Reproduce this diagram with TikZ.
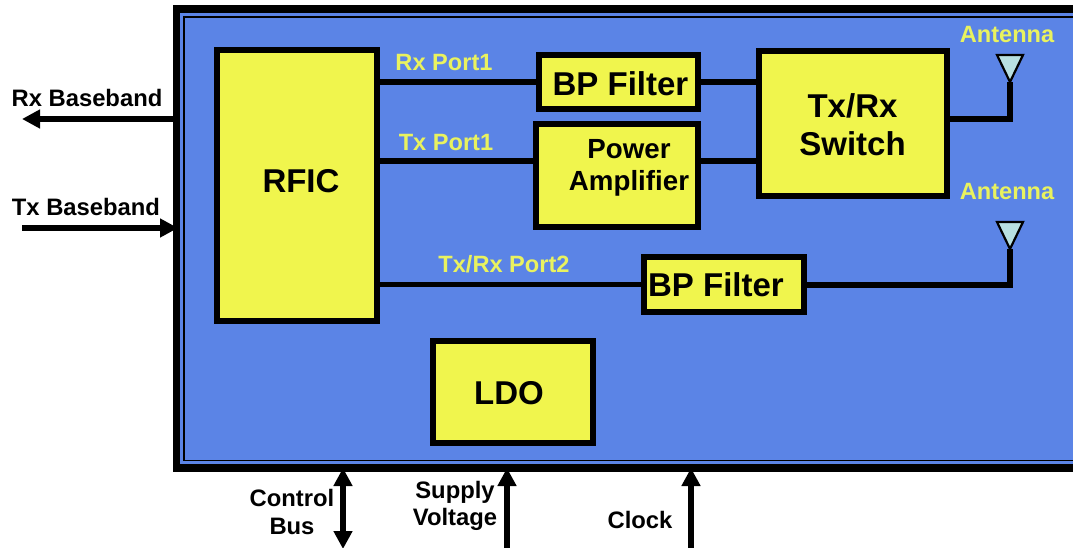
\documentclass[tikz,border=0pt]{standalone}
\usepackage{fontspec}
\setmainfont{Liberation Sans}
\usetikzlibrary{arrows.meta}
\definecolor{panel}{HTML}{5B84E6}
\definecolor{boxy}{HTML}{F0F54D}
\definecolor{labely}{HTML}{E9F25F}
\definecolor{ant}{HTML}{B8E0E2}
\newcommand{\offtext}[3]{\raisebox{#2}[0pt][0pt]{\hspace*{#1}\begin{tabular}{@{}c@{}}#3\end{tabular}}}
\tikzset{
 blockbox/.style={draw=black,line width=6pt,fill=boxy,anchor=center,inner sep=0pt,font=\fontsize{33}{40}\bfseries\selectfont},
 smallblock/.style={blockbox,font=\fontsize{27.7}{32}\bfseries\selectfont},
 wire/.style={line width=5.5pt,draw=black},
 sig/.style={line width=6pt,draw=black},
 lab/.style={text=labely,font=\fontsize{23.6}{26}\bfseries\selectfont,inner sep=0pt},
 ext/.style={text=black,font=\fontsize{23.8}{28.5}\bfseries\selectfont,inner sep=0pt,align=center},
 tip/.style={-{Triangle[length=18pt,width=18pt]}},
 tipboth/.style={{Triangle[length=18pt,width=18pt]}-{Triangle[length=18pt,width=18pt]}},
 antenna/.style={draw=black,line width=2.2pt,fill=ant,line join=miter},
 apex/.style={inner sep=0pt,minimum size=0pt},
}
\begin{document}
\begin{tikzpicture}[x=1pt,y=-1pt]
\useasboundingbox (0,0) rectangle (1073,548);
% panel
\fill[black] (173,5) rectangle (1073,472);
\fill[panel] (180,13) rectangle (1073,464);
\draw[black,line width=1.8pt] (1074,17) -- (184,17) -- (184,460.5) -- (1074,460.5);
% free ends
\coordinate (rxout) at (22,119);
\coordinate (rxin) at (176,119);
\coordinate (txin) at (22,228);
\coordinate (txout) at (178,228);
\coordinate (cbT) at (343,468);
\coordinate (cbB) at (343,549);
\coordinate (svT) at (507,468);
\coordinate (svB) at (507,549);
\coordinate (ckT) at (691,468);
\coordinate (ckB) at (691,549);
\coordinate (a1) at (1010,119);
\coordinate (a2) at (1010,285);
\coordinate (y1) at (0,82);
\coordinate (y2) at (0,161);
% blocks
\node[blockbox,minimum width=160pt,minimum height=271pt] (rfic) at (297,185.5) {\offtext{8pt}{-5.6pt}{RFIC}};
\node[blockbox,minimum width=159pt,minimum height=54pt] (bp1) at (618.5,82) {\offtext{4pt}{-12.1pt}{BP Filter}};
\node[blockbox,minimum width=188pt,minimum height=145pt] (sw) at (853,123.5) {\offtext{-1pt}{-10.8pt}{Tx/Rx\\[-2pt]Switch}};
\node[smallblock,minimum width=162pt,minimum height=103pt] (pa) at (617,175.5) {\offtext{24pt}{1.5pt}{Power\\Amplifier}};
\node[blockbox,minimum width=160pt,minimum height=55pt] (bp2) at (724,284.5) {\offtext{-16pt}{-10.6pt}{BP Filter}};
\node[blockbox,minimum width=160pt,minimum height=102pt] (ldo) at (513,392) {\offtext{-8pt}{-11.1pt}{LDO}};
% antenna apexes
\node[apex] (ant1) at (1010,82) {};
\node[apex] (ant2) at (1010,249) {};
% wires
\draw[wire] (rfic.east |- y1) -- (bp1.west |- y1);
\draw[wire] (bp1.east |- y1) -- (sw.west |- y1);
\draw[wire] (rfic.east |- y2) -- (pa.west |- y2);
\draw[wire] (pa.east |- y2) -- (sw.west |- y2);
\draw[wire] (rfic.east |- bp2.west) -- (bp2.west);
\draw[wire,line join=miter] (sw.east |- a1) -- (a1) -- (ant1);
\draw[wire,line join=miter] (bp2.east |- a2) -- (a2) -- (ant2);
\draw[antenna] (997,55) -- (1023,55) -- (ant1.center) -- cycle;
\draw[antenna] (997,222) -- (1023,222) -- (ant2.center) -- cycle;
% external arrows
\draw[sig,tip] (rxin) -- (rxout);
\draw[sig,tip] (txin) -- (txout);
\draw[sig,tipboth] (cbT) -- (cbB);
\draw[sig,tip] (svB) -- (svT);
\draw[sig,tip] (ckB) -- (ckT);
% labels
\node[lab] (l1) at (444,62) {Rx Port1};
\node[lab] (l2) at (446,142) {Tx Port1};
\node[lab] (l3) at (504,264) {Tx/Rx Port2};
\node[lab] (l4) at (1007,34) {Antenna};
\node[lab] (l5) at (1007,191) {Antenna};
\node[ext] (e1) at (87,98) {Rx Baseband};
\node[ext] (e2) at (86,207) {Tx Baseband};
\node[ext] (e3) at (292,512) {Control\\Bus};
\node[ext] (e4) at (455,506) {Supply\\[-1.5pt]Voltage};
\node[ext] (e5) at (640,520) {Clock};
\end{tikzpicture}
\end{document}
